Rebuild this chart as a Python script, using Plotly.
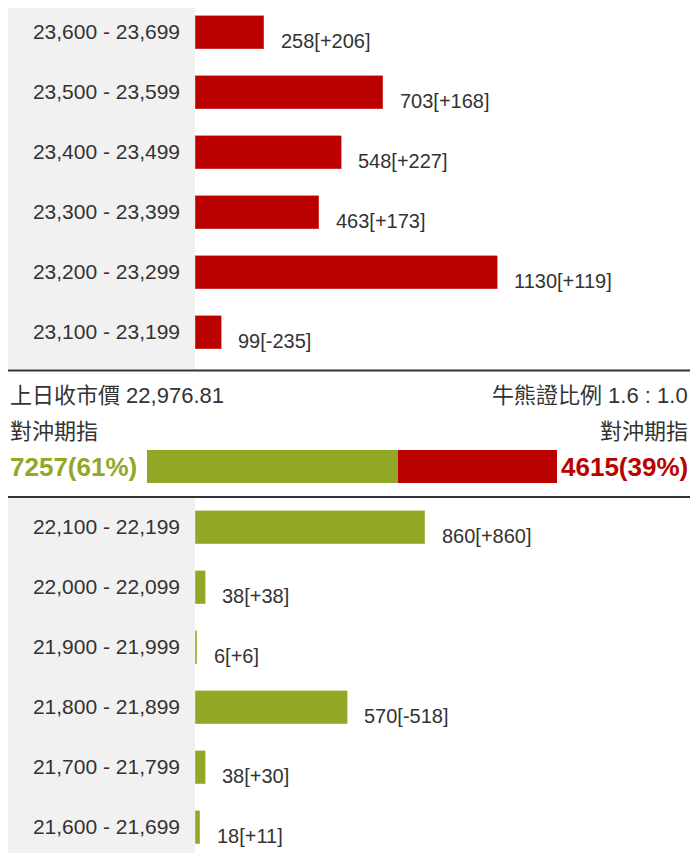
import plotly.graph_objects as go

# ---------------- data ----------------
top_ranges = ["23,600 - 23,699", "23,500 - 23,599", "23,400 - 23,499",
              "23,300 - 23,399", "23,200 - 23,299", "23,100 - 23,199"]
top_values = [258, 703, 548, 463, 1130, 99]
top_changes = [206, 168, 227, 173, 119, -235]

bottom_ranges = ["22,100 - 22,199", "22,000 - 22,099", "21,900 - 21,999",
                 "21,800 - 21,899", "21,700 - 21,799", "21,600 - 21,699"]
bottom_values = [860, 38, 6, 570, 38, 18]
bottom_changes = [860, 38, 6, -518, 30, 11]

prev_close = 22976.81
bull_bear_ratio = [1.6, 1.0]
hedge_bull = 7257
hedge_bear = 4615

# ---------------- style ----------------
PAGE_MARGIN = 8          # default body margin of the html page
W, H = 698 - 2 * PAGE_MARGIN, 861 - 2 * PAGE_MARGIN
RED = "#BB0000"
GREEN = "#91A826"
TXT = "#333333"
GRAY_COL = "#F1F1F1"
LATIN = "Liberation Sans, Arial, sans-serif"
CJK = "Liberation Sans, Arial, Noto Sans CJK TC, sans-serif"
PX_PER_UNIT = 0.2673
ROW_PX = 60


def px_x(p):
    return max(0.0, min(1.0, (p - PAGE_MARGIN) / W))


def px_y(p):
    return max(0.0, min(1.0, 1 - (p - PAGE_MARGIN) / H))


def cat_range(top_px, bottom_px, first_center_px):
    top = -(first_center_px - top_px) / ROW_PX
    bottom = (bottom_px - first_center_px) / ROW_PX
    return [bottom, top]


def fmt(v, c):
    return f"{v}[{'+' if c >= 0 else ''}{c}]"


XMAX = (PAGE_MARGIN + W - 195) / PX_PER_UNIT

fig = go.Figure()

fig.add_trace(go.Bar(x=top_values, y=top_ranges, orientation="h",
                     marker=dict(color=RED, line=dict(color="#D85050", width=0.6)),
                     width=0.55, xaxis="x", yaxis="y", hoverinfo="skip"))
fig.add_trace(go.Bar(x=bottom_values, y=bottom_ranges, orientation="h",
                     marker=dict(color=GREEN, line=dict(color="#B5C86A", width=0.6)),
                     width=0.55, xaxis="x2", yaxis="y2", hoverinfo="skip"))

# middle stacked bar
fig.add_trace(go.Bar(x=[hedge_bull], y=["h"], orientation="h", width=1,
                     marker=dict(color=GREEN, line=dict(width=0)),
                     xaxis="x3", yaxis="y3", hoverinfo="skip"))
fig.add_trace(go.Bar(x=[hedge_bear], y=["h"], orientation="h", width=1,
                     marker=dict(color=RED, line=dict(width=0)),
                     xaxis="x3", yaxis="y3", hoverinfo="skip"))

annotations = []
for v, c, r in zip(top_values, top_changes, top_ranges):
    annotations.append(dict(x=v, y=r, xref="x", yref="y", text=fmt(v, c),
                            showarrow=False, xanchor="left", yanchor="middle",
                            xshift=15, yshift=-9,
                            font=dict(family=LATIN, size=20, color=TXT)))
for v, c, r in zip(bottom_values, bottom_changes, bottom_ranges):
    annotations.append(dict(x=v, y=r, xref="x2", yref="y2", text=fmt(v, c),
                            showarrow=False, xanchor="left", yanchor="middle",
                            xshift=15, yshift=-9,
                            font=dict(family=LATIN, size=20, color=TXT)))

total = hedge_bull + hedge_bear
bull_pct = round(hedge_bull / total * 100)
bear_pct = round(hedge_bear / total * 100)

annotations += [
    dict(x=px_x(8), y=px_y(395), xref="paper", yref="paper",
         text=f"上日收市價 {prev_close:,.2f}", showarrow=False,
         xanchor="left", yanchor="middle",
         font=dict(family=CJK, size=22, color=TXT)),
    dict(x=1, y=px_y(395), xref="paper", yref="paper",
         text=f"牛熊證比例 {bull_bear_ratio[0]:.1f} : {bull_bear_ratio[1]:.1f}",
         showarrow=False, xanchor="right", yanchor="middle",
         font=dict(family=CJK, size=22, color=TXT)),
    dict(x=px_x(8), y=px_y(431), xref="paper", yref="paper",
         text="對沖期指", showarrow=False, xanchor="left", yanchor="middle",
         font=dict(family=CJK, size=22, color=TXT)),
    dict(x=1, y=px_y(431), xref="paper", yref="paper",
         text="對沖期指", showarrow=False, xanchor="right", yanchor="middle",
         font=dict(family=CJK, size=22, color=TXT)),
    dict(x=px_x(8), y=px_y(467), xref="paper", yref="paper",
         text=f"<b>{hedge_bull}({bull_pct}%)</b>", showarrow=False,
         xanchor="left", yanchor="middle",
         font=dict(family=LATIN, size=26, color=GREEN)),
    dict(x=1, y=px_y(467), xref="paper", yref="paper",
         text=f"<b>{hedge_bear}({bear_pct}%)</b>", showarrow=False,
         xanchor="right", yanchor="middle",
         font=dict(family=LATIN, size=26, color=RED)),
]

shapes = [
    # grey label column
    dict(type="rect", xref="paper", yref="paper", x0=px_x(7), x1=px_x(195),
         y0=px_y(369), y1=px_y(3), fillcolor=GRAY_COL, line=dict(width=0), layer="below"),
    dict(type="rect", xref="paper", yref="paper", x0=px_x(7), x1=px_x(195),
         y0=px_y(861), y1=px_y(498), fillcolor=GRAY_COL, line=dict(width=0), layer="below"),
    # separators
    dict(type="line", xref="paper", yref="paper", x0=px_x(7), x1=1,
         y0=px_y(370.5), y1=px_y(370.5), line=dict(color="#333333", width=2)),
    dict(type="line", xref="paper", yref="paper", x0=px_x(7), x1=1,
         y0=px_y(497), y1=px_y(497), line=dict(color="#333333", width=2)),
]

hidden_x = dict(showgrid=False, zeroline=False, showticklabels=False,
                showline=False, ticks="", fixedrange=True)
cat_y = dict(showgrid=False, zeroline=False, showline=False, ticks="",
             ticklabelstandoff=14,
             tickfont=dict(family=LATIN, size=21, color=TXT), fixedrange=True)

fig.update_layout(
    width=W, height=H,
    margin=dict(l=0, r=0, t=0, b=0),
    paper_bgcolor="white", plot_bgcolor="rgba(0,0,0,0)",
    showlegend=False, barmode="stack",
    xaxis=dict(domain=[px_x(195), 1], range=[0, XMAX], anchor="y", **hidden_x),
    yaxis=dict(domain=[px_y(362), px_y(8)], anchor="x",
               range=cat_range(8, 362, 32), **cat_y),
    xaxis2=dict(domain=[px_x(195), 1], range=[0, XMAX], anchor="y2", **hidden_x),
    yaxis2=dict(domain=[px_y(853), px_y(497)], anchor="x2",
                range=cat_range(497, 853, 527), **cat_y),
    xaxis3=dict(domain=[px_x(147), px_x(557)], range=[0, total], anchor="y3", **hidden_x),
    yaxis3=dict(domain=[px_y(483), px_y(450)], range=[-0.5, 0.5], anchor="x3",
                showgrid=False, zeroline=False, showticklabels=False, ticks="",
                fixedrange=True),
    annotations=annotations,
    shapes=shapes,
)

fig.write_html("out.html")
